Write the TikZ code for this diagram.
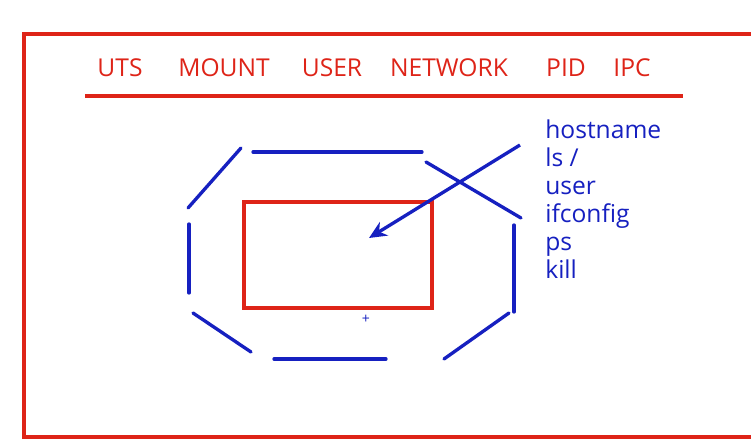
\documentclass[tikz,border=0pt]{standalone}
\usepackage{fontspec}
\setmainfont{Open Sans}
\usetikzlibrary{arrows.meta}
\definecolor{nsred}{RGB}{222,36,24}
\definecolor{nsblue}{RGB}{22,32,192}

\begin{document}
\begin{tikzpicture}[x=0.02cm,y=-0.02cm]
	\tikzstyle{every node}=[font=\fontsize{14}{16}\selectfont, inner sep=0pt]
	\tikzstyle{redline}=[draw=nsred, line width=1.8pt]
	\tikzstyle{wall}=[draw=nsblue, line width=1.9pt, line cap=round]
	\tikzstyle{ns}=[text=nsred, anchor=base]
	\tikzstyle{cmd}=[text=nsblue, anchor=base west]
	
	\useasboundingbox (0,0) rectangle (751,442);
	\clip (0,0) rectangle (751,442);
	
	% outer box, open to the right
	\draw [redline] (760,34) -- (24,34) -- (24,437) -- (760,437);
	
	% namespaces
	\node [ns] (uts) at (120,77) {UTS};
	\node [ns] (mount) at (224,77) {MOUNT};
	\node [ns] (user) at (332,77) {USER};
	\node [ns] (network) at (449,77) {NETWORK};
	\node [ns] (pid) at (566,77) {PID};
	\node [ns] (ipc) at (632,77) {IPC};
	\draw [redline] (85,96) -- (683,96);
	
	% broken octagon
	\draw [wall] (188,208) -- (241,148);
	\draw [wall] (253,152) -- (422,152);
	\draw [wall] (426,162) -- (521,218);
	\draw [wall] (514,225) -- (514,312);
	\draw [wall] (509,313) -- (444,359);
	\draw [wall] (386,359) -- (274,359);
	\draw [wall] (251,352) -- (193,313);
	\draw [wall] (189,293) -- (189,224);
	
	% container
	\draw [redline] (244,202) rectangle (432,308);
	\node [text=nsblue, font=\footnotesize] (cursor) at (366,319) {+};
	
	% commands
	\foreach \c [count=\i] in {hostname, ls /, user, ifconfig, ps, kill}
		\node [cmd] (cmd\i) at (545,{139+28*(\i-1)}) {\c};
	
	\coordinate (from) at (520,145);
	\coordinate (into) at (369,238);
	\draw [draw=nsblue, line width=1.9pt, -{Stealth[length=10pt,width=9pt]}] (from) -- (into);
	
\end{tikzpicture}
\end{document}
